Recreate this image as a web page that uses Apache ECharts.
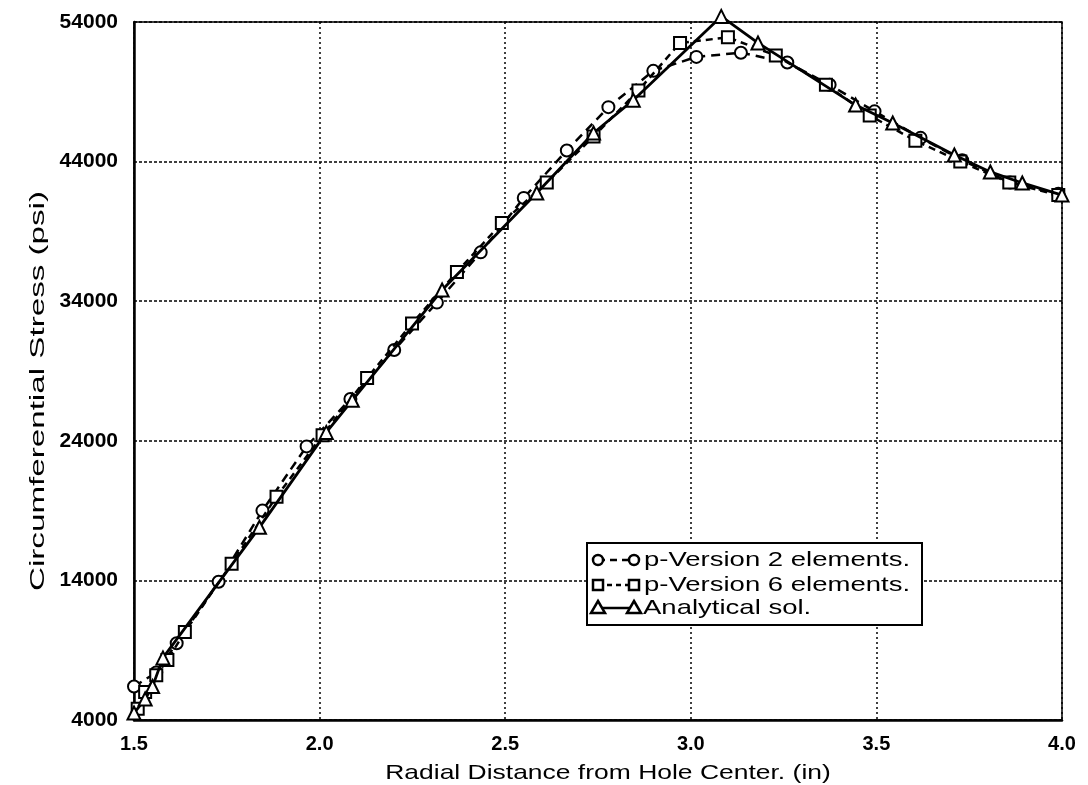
<!DOCTYPE html>
<html>
<head>
<meta charset="utf-8">
<script src="https://cdn.jsdelivr.net/npm/echarts@6/dist/echarts.min.js"></script>
<style>
html,body{margin:0;padding:0;background:#fff;}
#chart{width:1088px;height:785px;}
</style>
</head>
<body>
<div id="chart"></div>
<script>
// Data
const seriesNames = ["p-Version 2 elements.", "p-Version 6 elements.", "Analytical sol."];

const circleX = [1.50, 1.56, 1.615, 1.728, 1.846, 1.965, 2.083, 2.201, 2.316, 2.434, 2.550, 2.666, 2.778, 2.899, 3.015, 3.135, 3.260, 3.374, 3.495, 3.619, 3.731, 3.860, 3.990];
const circleY = [6400, 7400, 9500, 13900, 19000, 23600, 27000, 30500, 33900, 37500, 41400, 44800, 47900, 50500, 51500, 51800, 51100, 49500, 47600, 45700, 44100, 42500, 41700];

const squareX = [1.51, 1.53, 1.56, 1.59, 1.637, 1.763, 1.884, 2.008, 2.128, 2.249, 2.370, 2.491, 2.612, 2.738, 2.859, 2.971, 3.100, 3.229, 3.364, 3.482, 3.605, 3.726, 3.858, 3.990];
const squareY = [4800, 6000, 7200, 8300, 10300, 15200, 20000, 24400, 28500, 32400, 36100, 39600, 42500, 45800, 49100, 52500, 52900, 51600, 49500, 47300, 45500, 44000, 42500, 41600];

const triX = [1.50, 1.53, 1.55, 1.578, 1.838, 2.018, 2.088, 2.330, 2.585, 2.738, 2.845, 3.082, 3.181, 3.444, 3.544, 3.710, 3.807, 3.893, 4.000];
const triY = [4500, 5500, 6400, 8450, 17800, 24600, 26900, 34800, 41750, 46050, 48400, 54400, 52500, 48050, 46770, 44470, 43260, 42470, 41600];

const xTicks = [1.5, 2.0, 2.5, 3.0, 3.5, 4.0];
const yTicks = [4000, 14000, 24000, 34000, 44000, 54000];

const xTitle = 'Radial Distance from Hole Center. (in)';
const yTitle = 'Circumferential Stress (psi)';

function pairs(xs, ys) { return xs.map((x, i) => [x, ys[i]]); }

const chart = echarts.init(document.getElementById('chart'), null, {renderer: 'canvas'});
const font = 'Liberation Sans, Arial, Helvetica, sans-serif';

// legend drawn as graphic (text stretched like the scanned original)
const legendRows = [
  {y: 560, dash: [7, 5], sym: 'circle'},
  {y: 585, dash: [5, 4], sym: 'rect'},
  {y: 608, dash: null, sym: 'tri'}
];
function legendSymbol(kind, cx, cy) {
  const st = {fill: '#fff', stroke: '#000', lineWidth: 2.5};
  if (kind === 'circle') return {type: 'circle', shape: {cx: cx, cy: cy, r: 5}, style: st, z: 102};
  if (kind === 'rect') return {type: 'rect', shape: {x: cx - 5, y: cy - 5, width: 10, height: 10}, style: st, z: 102};
  return {type: 'polygon', shape: {points: [[cx, cy - 7], [cx + 7, cy + 5], [cx - 7, cy + 5]]}, style: st, z: 102};
}
const legendGraphics = [
  {type: 'rect', shape: {x: 587, y: 543, width: 335, height: 82}, style: {fill: '#fff', stroke: '#000', lineWidth: 2}, z: 100}
];
legendRows.forEach((r, i) => {
  legendGraphics.push({type: 'line', shape: {x1: 598, y1: r.y, x2: 634, y2: r.y},
    style: {stroke: '#000', lineWidth: 2.5, lineDash: r.dash || null}, z: 101});
  legendGraphics.push(legendSymbol(r.sym, 598, r.y));
  legendGraphics.push(legendSymbol(r.sym, 634, r.y));
  legendGraphics.push({type: 'text', x: (i === 2 ? 643 : 644), y: r.y, scaleX: 1.31, z: 103,
    style: {text: seriesNames[i], font: '21px ' + font, fill: '#000', textVerticalAlign: 'middle', verticalAlign: 'middle'}});
});

chart.setOption({
  animation: false,
  backgroundColor: '#fff',
  grid: {left: 134, right: 26, top: 22, bottom: 65, show: true, borderColor: '#000', borderWidth: 1.5, backgroundColor: 'transparent'},
  xAxis: {
    type: 'value', min: xTicks[0], max: xTicks[xTicks.length - 1], interval: 0.5,
    axisLine: {show: true, lineStyle: {color: '#000', width: 2.5}},
    axisTick: {show: false},
    axisLabel: {fontFamily: font, fontSize: 20, fontWeight: 'bold', color: '#000', margin: 14, formatter: v => v.toFixed(1)},
    splitLine: {show: true, lineStyle: {color: '#000', type: [2, 3], width: 1.5}}
  },
  yAxis: {
    type: 'value', min: yTicks[0], max: yTicks[yTicks.length - 1], interval: 10000,
    axisLine: {show: true, lineStyle: {color: '#000', width: 2.5}},
    axisTick: {show: false},
    axisLabel: {fontFamily: font, fontSize: 21, fontWeight: 'bold', color: '#000', margin: 16, formatter: v => String(v)},
    splitLine: {show: true, lineStyle: {color: '#000', type: [3, 2], width: 1.5}}
  },
  graphic: [
    {type: 'text', x: 608, y: 773, scaleX: 1.26, z: 100,
      style: {text: xTitle, font: '21px ' + font, fill: '#000', textAlign: 'center', align: 'center', textVerticalAlign: 'middle', verticalAlign: 'middle'}},
    {type: 'text', x: 38, y: 391, rotation: Math.PI / 2, scaleX: 1.58, z: 100,
      style: {text: yTitle, font: '21px ' + font, fill: '#000', textAlign: 'center', align: 'center', textVerticalAlign: 'middle', verticalAlign: 'middle'}}
  ].concat(legendGraphics),
  series: [
    {
      name: seriesNames[0], type: 'line', data: pairs(circleX, circleY),
      symbol: 'emptyCircle', symbolSize: 12, z: 3,
      lineStyle: {color: '#000', width: 2.5, type: [9, 6]},
      itemStyle: {color: '#000', borderColor: '#000', borderWidth: 2.8}
    },
    {
      name: seriesNames[1], type: 'line', data: pairs(squareX, squareY),
      symbol: 'emptyRect', symbolSize: 12, z: 4,
      lineStyle: {color: '#000', width: 2.5, type: [7, 5]},
      itemStyle: {color: '#000', borderColor: '#000', borderWidth: 2.8}
    },
    {
      name: seriesNames[2], type: 'line', data: pairs(triX, triY),
      symbol: 'emptyTriangle', symbolSize: 13, z: 5, clip: false,
      lineStyle: {color: '#000', width: 2.8},
      itemStyle: {color: '#000', borderColor: '#000', borderWidth: 2.8}
    }
  ]
});
</script>
</body>
</html>
